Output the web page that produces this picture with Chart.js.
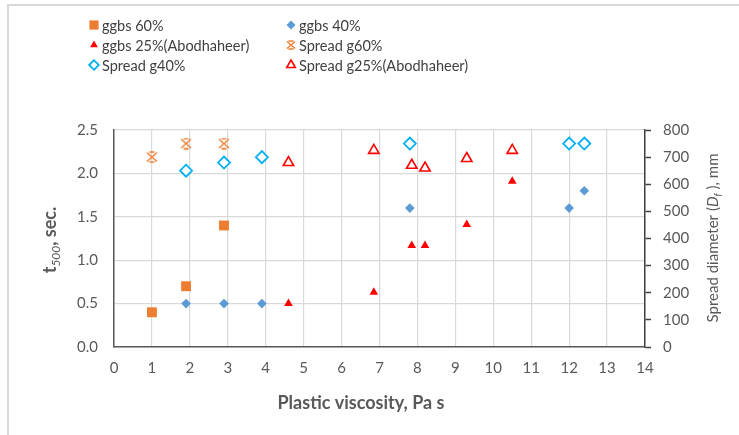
<!DOCTYPE html>
<html>
<head>
<meta charset="utf-8">
<script src="https://cdn.jsdelivr.net/npm/chart.js@4/dist/chart.umd.min.js"></script>
<style>
  body { margin: 0; background: #fff; }
  canvas { display: block; }
</style>
</head>
<body>
<canvas id="mycanvas" width="739" height="435"></canvas>
<script>
// t500 (left axis, sec.)
var ggbs60X = [1, 1.9, 2.9];
var ggbs60Y = [0.4, 0.7, 1.4];
var ggbs40X = [1.9, 2.9, 3.9, 7.8, 12, 12.4];
var ggbs40Y = [0.5, 0.5, 0.5, 1.6, 1.6, 1.8];
var ggbs25X = [4.6, 6.85, 7.85, 8.2, 9.3, 10.5];
var ggbs25Y = [0.5, 0.63, 1.17, 1.17, 1.41, 1.91];

// spread diameter (right axis, mm)
var spread60X = [1, 1.9, 2.9];
var spread60Y = [700, 750, 750];
var spread40X = [1.9, 2.9, 3.9, 7.8, 12, 12.4];
var spread40Y = [650, 680, 700, 750, 750, 750];
var spread25X = [4.6, 6.85, 7.85, 8.2, 9.3, 10.5];
var spread25Y = [680, 725, 670, 660, 695, 725];

var labels = ['ggbs 60%', 'ggbs 40%', 'ggbs 25%(Abodhaheer)', 'Spread g60%', 'Spread g40%', 'Spread g25%(Abodhaheer)'];

var textColor = '#595959';
var FONT = 'Lato, "Open Sans", sans-serif';

function pairs(xs, ys) {
  var out = [];
  for (var i in xs) {
    out.push({x: xs[i], y: ys[i]});
  }
  return out;
}

// orange "star" marker like the spreadsheet one
function starMarker(color, size) {
  var c = document.createElement('canvas');
  c.width = size; c.height = size;
  var g = c.getContext('2d');
  var a = 1, b = size - 1, m = size / 2;
  g.strokeStyle = color;
  g.lineWidth = 1.4;
  g.beginPath();
  g.moveTo(a, a + 0.5); g.lineTo(b, b - 0.5);
  g.moveTo(b, a + 0.5); g.lineTo(a, b - 0.5);
  g.moveTo(m - 2.5, 1); g.lineTo(m + 2.5, 1);
  g.moveTo(m - 2.5, size - 1); g.lineTo(m + 2.5, size - 1);
  g.stroke();
  return c;
}

var chartdata = {
  datasets: [
    {
      label: labels[0], data: pairs(ggbs60X, ggbs60Y), yAxisID: 'y',
      pointStyle: 'rect', pointRadius: 7, backgroundColor: '#ED7D31', borderColor: '#ED7D31', borderWidth: 0,
      legendStyle: 'rect', legendRadius: 6.5
    },
    {
      label: labels[1], data: pairs(ggbs40X, ggbs40Y), yAxisID: 'y',
      pointStyle: 'rectRot', pointRadius: 4.8, backgroundColor: '#5B9BD5', borderColor: '#5B9BD5', borderWidth: 0,
      legendStyle: 'rectRot', legendRadius: 4.5
    },
    {
      label: labels[2], data: pairs(ggbs25X, ggbs25Y), yAxisID: 'y',
      pointStyle: 'triangle', pointRadius: 5, backgroundColor: '#FF0000', borderColor: '#FF0000', borderWidth: 0,
      legendStyle: 'triangle', legendRadius: 4.5
    },
    {
      label: labels[3], data: pairs(spread60X, spread60Y), yAxisID: 'y2',
      pointStyle: starMarker('#ED7D31', 12), pointRadius: 6, backgroundColor: '#ED7D31', borderColor: '#ED7D31', borderWidth: 0,
      legendStyle: starMarker('#ED7D31', 10), legendRadius: 5
    },
    {
      label: labels[4], data: pairs(spread40X, spread40Y), yAxisID: 'y2',
      pointStyle: 'rectRot', pointRadius: 6, backgroundColor: '#ffffff', borderColor: '#00B0F0', borderWidth: 1.8,
      legendStyle: 'rectRot', legendRadius: 4.8
    },
    {
      label: labels[5], data: pairs(spread25X, spread25Y), yAxisID: 'y2',
      pointStyle: 'triangle', pointRadius: 6, backgroundColor: '#ffffff', borderColor: '#FF0000', borderWidth: 1.6,
      legendStyle: 'triangle', legendRadius: 5
    }
  ]
};

// grey frame on top and left, like the original picture
var framePlugin = {
  id: 'frame',
  beforeDraw: function(chart) {
    var ctx = chart.ctx;
    ctx.save();
    ctx.fillStyle = '#ffffff';
    ctx.fillRect(0, 0, chart.width, chart.height);
    ctx.strokeStyle = '#d9d9d9';
    ctx.lineWidth = 2;
    ctx.beginPath();
    ctx.moveTo(8, chart.height);
    ctx.lineTo(8, 5);
    ctx.lineTo(chart.width, 5);
    ctx.stroke();
    ctx.restore();
  }
};

// two column legend
var legendPlugin = {
  id: 'gridLegend',
  afterDraw: function(chart) {
    var ctx = chart.ctx;
    var cols = [94, 291];
    var rows = [25, 45, 65];
    chart.data.datasets.forEach(function(ds, i) {
      var mx = cols[i % 2];
      var my = rows[Math.floor(i / 2)];
      ctx.save();
      ctx.fillStyle = ds.backgroundColor;
      ctx.strokeStyle = ds.borderColor;
      ctx.lineWidth = ds.borderWidth;
      Chart.helpers.drawPoint(ctx, {
        pointStyle: ds.legendStyle,
        radius: ds.legendRadius,
        rotation: 0,
        borderWidth: ds.borderWidth
      }, mx, my);
      ctx.fillStyle = '#404040';
      ctx.font = '14.5px ' + FONT;
      ctx.textAlign = 'left';
      ctx.textBaseline = 'middle';
      ctx.fillText(ds.label, mx + 8, my + 1);
      ctx.restore();
    });
  }
};

// draws a run of text pieces, centred on 0
function drawPieces(ctx, pieces) {
  var total = 0;
  pieces.forEach(function(p) {
    ctx.font = p.font;
    p.w = ctx.measureText(p.text).width;
    total += p.w;
  });
  var x = -total / 2;
  pieces.forEach(function(p) {
    ctx.font = p.font;
    ctx.fillText(p.text, x, p.dy);
    x += p.w;
  });
}

var titlesPlugin = {
  id: 'axisTitles',
  afterDraw: function(chart) {
    var ctx = chart.ctx;
    ctx.save();
    ctx.fillStyle = textColor;
    ctx.textAlign = 'left';
    ctx.textBaseline = 'alphabetic';

    // x title
    ctx.save();
    ctx.translate(361, 403);
    drawPieces(ctx, [{text: 'Plastic viscosity, Pa s', font: 'bold 18px ' + FONT, dy: 6}]);
    ctx.restore();

    // left title
    ctx.save();
    ctx.translate(50, 240);
    ctx.rotate(-Math.PI / 2);
    drawPieces(ctx, [
      {text: 't', font: 'bold 18px ' + FONT, dy: 6},
      {text: '500', font: 'italic 12px ' + FONT, dy: 10},
      {text: ', sec.', font: 'bold 18px ' + FONT, dy: 6}
    ]);
    ctx.restore();

    // right title
    ctx.save();
    ctx.translate(713, 238);
    ctx.rotate(-Math.PI / 2);
    drawPieces(ctx, [
      {text: 'Spread diameter (', font: '15px ' + FONT, dy: 5},
      {text: 'D', font: 'italic 15px ' + FONT, dy: 5},
      {text: 'f', font: 'italic 10px ' + FONT, dy: 8},
      {text: ' ), mm', font: '15px ' + FONT, dy: 5}
    ]);
    ctx.restore();

    ctx.restore();
  }
};

var ctx = document.getElementById('mycanvas');

var ScatterGraph = new Chart(ctx, {
  type: 'scatter',
  data: chartdata,
  plugins: [framePlugin, legendPlugin, titlesPlugin],
  options: {
    responsive: false,
    animation: false,
    devicePixelRatio: 1,
    layout: { padding: { top: 130, left: 0, right: 0, bottom: 0 } },
    plugins: {
      legend: { display: false },
      tooltip: { enabled: false }
    },
    scales: {
      x: {
        type: 'linear', min: 0, max: 14,
        ticks: { stepSize: 1, color: textColor, font: { family: FONT, size: 15 }, padding: 12 },
        grid: { color: '#d9d9d9', lineWidth: 1.2, drawTicks: false },
        border: { color: '#595959', width: 1.5 },
        afterFit: function(scale) { scale.height = 88; }
      },
      y: {
        position: 'left', min: 0, max: 2.5,
        ticks: {
          stepSize: 0.5, color: textColor, font: { family: FONT, size: 15 }, padding: 16,
          callback: function(v) { return v.toFixed(1); }
        },
        grid: { color: '#d9d9d9', lineWidth: 1.2, drawTicks: false },
        border: { color: '#595959', width: 1.5 },
        afterFit: function(scale) { scale.width = 114; }
      },
      y2: {
        position: 'right', min: 0, max: 800,
        ticks: { stepSize: 100, color: textColor, font: { family: FONT, size: 15 }, padding: 12 },
        grid: { drawOnChartArea: false, color: '#404040', tickLength: 6, tickWidth: 1.5 },
        border: { color: '#404040', width: 1.5 },
        afterFit: function(scale) { scale.width = 94; }
      }
    }
  }
});
</script>
</body>
</html>
